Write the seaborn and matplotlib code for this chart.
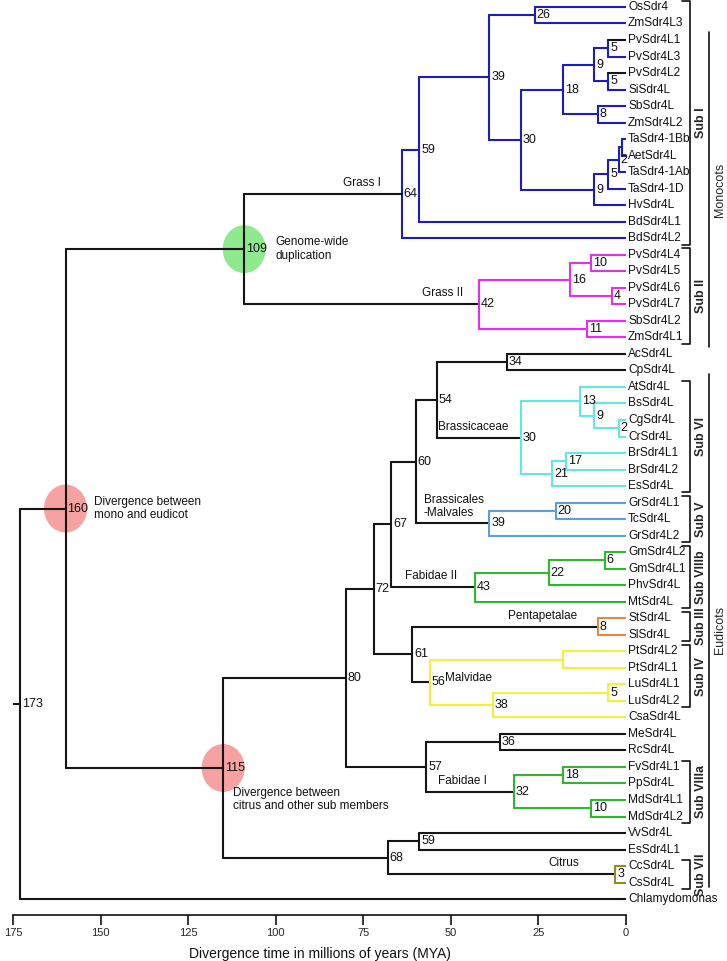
import matplotlib
matplotlib.use("Agg")
import matplotlib.pyplot as plt
from matplotlib.patches import Ellipse
import pandas as pd
import seaborn as sns

# leaves, top to bottom
LEAVES = [
    "OsSdr4", "ZmSdr4L3", "PvSdr4L1", "PvSdr4L3", "PvSdr4L2", "SiSdr4L",
    "SbSdr4L", "ZmSdr4L2", "TaSdr4-1Bb", "AetSdr4L", "TaSdr4-1Ab", "TaSdr4-1D",
    "HvSdr4L", "BdSdr4L1", "BdSdr4L2",
    "PvSdr4L4", "PvSdr4L5", "PvSdr4L6", "PvSdr4L7", "SbSdr4L2", "ZmSdr4L1",
    "AcSdr4L", "CpSdr4L", "AtSdr4L", "BsSdr4L", "CgSdr4L", "CrSdr4L",
    "BrSdr4L1", "BrSdr4L2", "EsSdr4L", "GrSdr4L1", "TcSdr4L", "GrSdr4L2",
    "GmSdr4L2", "GmSdr4L1", "PhvSdr4L", "MtSdr4L", "StSdr4L", "SlSdr4L",
    "PtSdr4L2", "PtSdr4L1", "LuSdr4L1", "LuSdr4L2", "CsaSdr4L", "MeSdr4L",
    "RcSdr4L", "FvSdr4L1", "PpSdr4L", "MdSdr4L1", "MdSdr4L2", "VvSdr4L",
    "EsSdr4L1", "CcSdr4L", "CsSdr4L", "Chlamydomonas",
]

# internal nodes: id, age (MYA), children, colour group, label
TREE = [
    ("os26", 26, "OsSdr4", "ZmSdr4L3", "blue", "26"),
    ("pv5a", 5, "PvSdr4L1", "PvSdr4L3", "blue", "5"),
    ("pv5b", 5, "PvSdr4L2", "SiSdr4L", "blue", "5"),
    ("pa9", 9, "pv5a", "pv5b", "blue", "9"),
    ("sb8", 8, "SbSdr4L", "ZmSdr4L2", "blue", "8"),
    ("pa18", 18, "pa9", "sb8", "blue", "18"),
    ("ta1", 1, "TaSdr4-1Bb", "AetSdr4L", "blue", ""),
    ("ta2", 2, "ta1", "TaSdr4-1Ab", "blue", "2"),
    ("ta5", 5, "ta2", "TaSdr4-1D", "blue", "5"),
    ("tr9", 9, "ta5", "HvSdr4L", "blue", "9"),
    ("g30", 30, "pa18", "tr9", "blue", "30"),
    ("g39", 39, "os26", "g30", "blue", "39"),
    ("g59", 59, "g39", "BdSdr4L1", "blue", "59"),
    ("g64", 64, "g59", "BdSdr4L2", "blue", "64"),
    ("pv10", 10, "PvSdr4L4", "PvSdr4L5", "magenta", "10"),
    ("pv4", 4, "PvSdr4L6", "PvSdr4L7", "magenta", "4"),
    ("g16", 16, "pv10", "pv4", "magenta", "16"),
    ("sb11", 11, "SbSdr4L2", "ZmSdr4L1", "magenta", "11"),
    ("g42", 42, "g16", "sb11", "magenta", "42"),
    ("mono", 109, "g64", "g42", "black", "109"),
    ("ac34", 34, "AcSdr4L", "CpSdr4L", "black", "34"),
    ("cg2", 2, "CgSdr4L", "CrSdr4L", "cyan", "2"),
    ("bs9", 9, "BsSdr4L", "cg2", "cyan", "9"),
    ("at13", 13, "AtSdr4L", "bs9", "cyan", "13"),
    ("br17", 17, "BrSdr4L1", "BrSdr4L2", "cyan", "17"),
    ("br21", 21, "br17", "EsSdr4L", "cyan", "21"),
    ("bra30", 30, "at13", "br21", "cyan", "30"),
    ("e54", 54, "ac34", "bra30", "black", "54"),
    ("gr20", 20, "GrSdr4L1", "TcSdr4L", "sky", "20"),
    ("bm39", 39, "gr20", "GrSdr4L2", "sky", "39"),
    ("e60", 60, "e54", "bm39", "black", "60"),
    ("gm6", 6, "GmSdr4L2", "GmSdr4L1", "green", "6"),
    ("gm22", 22, "gm6", "PhvSdr4L", "green", "22"),
    ("fab43", 43, "gm22", "MtSdr4L", "green", "43"),
    ("e67", 67, "e60", "fab43", "black", "67"),
    ("pen8", 8, "StSdr4L", "SlSdr4L", "orange", "8"),
    ("pt18", 18, "PtSdr4L2", "PtSdr4L1", "yellow", ""),
    ("lu5", 5, "LuSdr4L1", "LuSdr4L2", "yellow", "5"),
    ("lu38", 38, "lu5", "CsaSdr4L", "yellow", "38"),
    ("mal56", 56, "pt18", "lu38", "yellow", "56"),
    ("e61", 61, "pen8", "mal56", "black", "61"),
    ("e72", 72, "e67", "e61", "black", "72"),
    ("me36", 36, "MeSdr4L", "RcSdr4L", "black", "36"),
    ("fv18", 18, "FvSdr4L1", "PpSdr4L", "green", "18"),
    ("md10", 10, "MdSdr4L1", "MdSdr4L2", "green", "10"),
    ("fab32", 32, "fv18", "md10", "green", "32"),
    ("e57", 57, "me36", "fab32", "black", "57"),
    ("e80", 80, "e72", "e57", "black", "80"),
    ("vv59", 59, "VvSdr4L", "EsSdr4L1", "black", "59"),
    ("cit3", 3, "CcSdr4L", "CsSdr4L", "olive", "3"),
    ("e68", 68, "vv59", "cit3", "black", "68"),
    ("eud", 115, "e80", "e68", "black", "115"),
    ("mrca", 160, "mono", "eud", "black", "160"),
    ("root", 173, "mrca", "Chlamydomonas", "black", "173"),
]
BLACK_TIPS = ["PvSdr4L1", "PvSdr4L2"]

PALETTE = {
    "black": "#151515", "blue": "#1c1cc4", "magenta": "#ec2cec",
    "cyan": "#62e6e6", "sky": "#5c9ee2", "green": "#2fb82f",
    "orange": "#e8883c", "yellow": "#f4ee3c", "olive": "#8e8e22",
}

# clade names on branches: text, node, x (MYA), dy, ha, va
CLADES = [
    ("Grass I", "g64", 70, -0.3, "right", "bottom"),
    ("Grass II", "g42", 46.4, -0.3, "right", "bottom"),
    ("Brassicaceae", "bra30", 33.6, -0.3, "right", "bottom"),
    ("Brassicales\n-Malvales", "bm39", 57.8, -0.25, "left", "bottom"),
    ("Fabidae II", "fab43", 48.1, -0.3, "right", "bottom"),
    ("Pentapetalae", "pen8", 14, -0.3, "right", "bottom"),
    ("Malvidae", "mal56", 51.6, -0.25, "left", "center"),
    ("Fabidae I", "fab32", 39.6, -0.3, "right", "bottom"),
    ("Citrus", "cit3", 13.4, -0.3, "right", "bottom"),
]

# highlighted events: node, colour, text, x (MYA), dy, va
EVENTS = [
    ("mono", "#8fea8f", "Genome-wide\nduplication", 100, 0, "center"),
    ("mrca", "#f6a2a2", "Divergence between\nmono and eudicot", 152, 0, "center"),
    ("eud", "#f6a2a2", "Divergence between\ncitrus and other sub members", 112.3, 1.15, "top"),
]

SUBGROUPS = [
    ("Sub I", "OsSdr4", "BdSdr4L2"),
    ("Sub II", "PvSdr4L4", "ZmSdr4L1"),
    ("Sub VI", "AtSdr4L", "EsSdr4L"),
    ("Sub V", "GrSdr4L1", "GrSdr4L2"),
    ("Sub VIIIb", "GmSdr4L2", "MtSdr4L"),
    ("Sub III", "StSdr4L", "SlSdr4L"),
    ("Sub IV", "PtSdr4L2", "LuSdr4L2"),
    ("Sub VIIIa", "FvSdr4L1", "MdSdr4L2"),
    ("Sub VII", "CcSdr4L", "CsSdr4L"),
]
GROUPS = [
    ("Monocots", "PvSdr4L1", "ZmSdr4L1", 0.5, 0.6),
    ("Eudicots", "AtSdr4L", "CsSdr4L", 0.8, 0.25),
]

X_TICKS = [175, 150, 125, 100, 75, 50, 25, 0]
X_LABEL = "Divergence time in millions of years (MYA)"


def layout_tree():
    ypos = {name: i for i, name in enumerate(LEAVES)}
    age = {name: 0 for name in LEAVES}
    for nid, a, left, right, grp, lab in TREE:
        ypos[nid] = (ypos[left] + ypos[right]) / 2
        age[nid] = a
    return ypos, age


def build_segments(ypos, age):
    rows = []
    seg = 0
    for nid, a, left, right, grp, lab in TREE:
        rows += [(seg, a, ypos[left], grp), (seg, a, ypos[right], grp)]
        seg += 1
        for child in (left, right):
            g = "black" if child in BLACK_TIPS else grp
            rows += [(seg, a, ypos[child], g), (seg, age[child], ypos[child], g)]
            seg += 1
    # little stub left of the root
    rows += [(seg, 175, ypos["root"], "black"), (seg, 173, ypos["root"], "black")]
    return pd.DataFrame(rows, columns=["seg", "t", "y", "group"])


def main():
    sns.set_style("ticks")
    plt.rcParams["font.family"] = ["Liberation Sans", "DejaVu Sans"]

    ypos, age = layout_tree()
    df = build_segments(ypos, age)

    fig = plt.figure(figsize=(7.27, 9.61), dpi=100)
    ax = fig.add_axes([13 / 727, 46 / 961, 613 / 727, 915 / 961])

    for nid, col, txt, tx, dy, va in EVENTS:
        ax.add_patch(Ellipse((age[nid], ypos[nid]), width=12.3, height=2.9,
                             facecolor=col, edgecolor="none", zorder=0))
        ax.text(tx, ypos[nid] + dy, txt, fontsize=8.5, ha="left", va=va,
                linespacing=1.15, color="#111111")

    sns.lineplot(data=df, x="t", y="y", units="seg", hue="group",
                 palette=PALETTE, estimator=None, sort=False, legend=False,
                 linewidth=1.5, ax=ax)

    for nid, a, left, right, grp, lab in TREE:
        if lab:
            ax.text(a - 0.5, ypos[nid], lab, fontsize=9, ha="left",
                    va="center", color="#111111")

    for name in LEAVES:
        ax.text(-0.6, ypos[name], name, fontsize=8.6, ha="left", va="center",
                color="#111111", clip_on=False)

    for txt, nid, tx, dy, ha, va in CLADES:
        ax.text(tx, ypos[nid] + dy, txt, fontsize=8.5, ha=ha, va=va,
                linespacing=1.1, color="#111111")

    # subgroup brackets
    bx, tick = -18.4, 2.4
    for txt, first, last in SUBGROUPS:
        y0, y1 = ypos[first] - 0.38, ypos[last] + 0.38
        ax.plot([bx + tick, bx, bx, bx + tick], [y0, y0, y1, y1],
                color="#111111", lw=1.2, clip_on=False)
        ax.text(bx - 3.1, (y0 + y1) / 2, txt, rotation=90, fontsize=9,
                fontweight="bold", ha="center", va="center", clip_on=False)

    gx = -23.6
    for txt, first, last, pad0, pad1 in GROUPS:
        y0, y1 = ypos[first] - pad0, ypos[last] + pad1
        ax.plot([gx, gx], [y0, y1], color="#111111", lw=1.2, clip_on=False)
        ax.text(gx - 3.1, (y0 + y1) / 2, txt, rotation=90, fontsize=9,
                ha="center", va="center", clip_on=False)

    ax.set_xlim(175, 0)
    ax.set_ylim(54.96, -0.42)
    ax.set_yticks([])
    ax.set_ylabel("")
    ax.set_xticks(X_TICKS)
    ax.set_xticklabels([str(t) for t in X_TICKS])
    ax.tick_params(axis="x", direction="out", length=7, width=1.2,
                   labelsize=8, pad=2, color="#111111")
    ax.set_xlabel(X_LABEL, fontsize=10, labelpad=7, color="#111111")
    sns.despine(ax=ax, left=True, top=True, right=True)
    ax.spines["bottom"].set_linewidth(1.2)
    ax.spines["bottom"].set_color("#111111")

    fig.savefig("out.png", dpi=100)
    plt.close(fig)


if __name__ == "__main__":
    main()
